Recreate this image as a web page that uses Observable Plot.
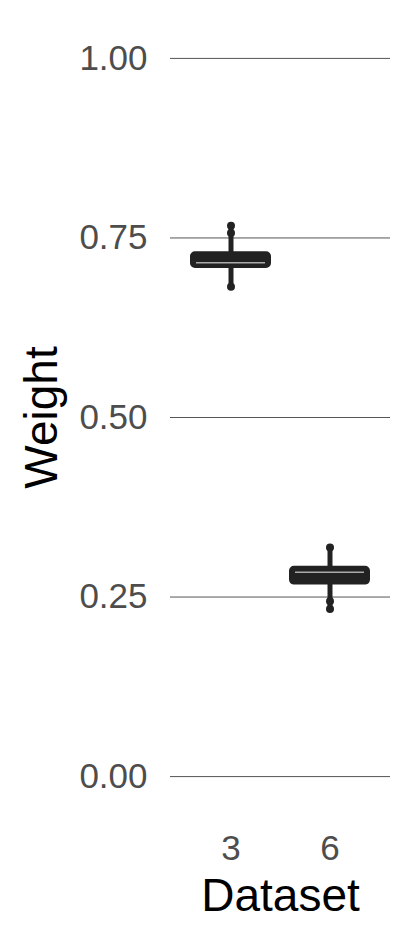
<!DOCTYPE html>
<html>
<head>
<meta charset="utf-8">
<script src="https://cdn.jsdelivr.net/npm/d3@7"></script>
<script src="https://cdn.jsdelivr.net/npm/@observablehq/plot@0.6"></script>
<style>
  html, body { margin: 0; padding: 0; background: #fff; }
</style>
</head>
<body>
<div id="chart"></div>
<script>
// Box summary values
const datasets = ["3", "6"];
const q1 = [0.709, 0.268];
const medians = [0.7155, 0.2846];
const q3 = [0.7295, 0.2915];
const whiskerLow = [0.683, 0.234];
const whiskerHigh = [0.766, 0.319];
const outlierDataset = ["3", "3", "3", "6", "6", "6"];
const outlierValue = [0.767, 0.757, 0.682, 0.319, 0.244, 0.2335];
const yTicks = [0, 0.25, 0.5, 0.75, 1];

const boxes = datasets.map((d, i) => ({
  dataset: d, q1: q1[i], median: medians[i], q3: q3[i],
  lo: whiskerLow[i], hi: whiskerHigh[i]
}));
const outliers = outlierDataset.map((d, i) => ({dataset: d, value: outlierValue[i]}));

const plot = Plot.plot({
  width: 413,
  height: 944,
  marginLeft: 170,
  marginRight: 23,
  marginTop: 22,
  marginBottom: 132,
  style: {fontFamily: "'Liberation Sans', Arial, sans-serif", background: "#fff"},
  x: {type: "band", domain: datasets, paddingInner: 0.2, paddingOuter: 0.2},
  y: {domain: [-0.05, 1.05]},
  marks: [
    Plot.ruleY(yTicks, {stroke: "#555", strokeWidth: 1}),
    Plot.ruleX(boxes, {x: "dataset", y1: "lo", y2: "hi", stroke: "#222", strokeWidth: 5}),
    Plot.rect(boxes, {x: "dataset", y1: "q1", y2: "q3", fill: "#222", stroke: "#222", strokeWidth: 2, rx: 4}),
    Plot.tickY(boxes, {x: "dataset", y: "median", stroke: "#aaa", strokeWidth: 1.5, inset: 5}),
    Plot.dot(outliers, {x: "dataset", y: "value", r: 4, fill: "#222", stroke: "none"}),
    Plot.axisY(yTicks, {tickSize: 0, tickPadding: 23, fontSize: 35, tickFormat: d3.format(".2f"), label: null, color: "#4d4d4d"}),
    Plot.axisX({tickSize: 0, tickPadding: 23, fontSize: 35, label: null, color: "#4d4d4d"}),
    Plot.text(["Dataset"], {frameAnchor: "bottom", lineAnchor: "top", dy: 66, fontSize: 46, fill: "#000"}),
    Plot.text(["Weight"], {frameAnchor: "left", rotate: -90, dx: -128, textAnchor: "middle", lineAnchor: "middle", fontSize: 46, fill: "#000"})
  ]
});
document.getElementById("chart").appendChild(plot);
</script>
</body>
</html>
